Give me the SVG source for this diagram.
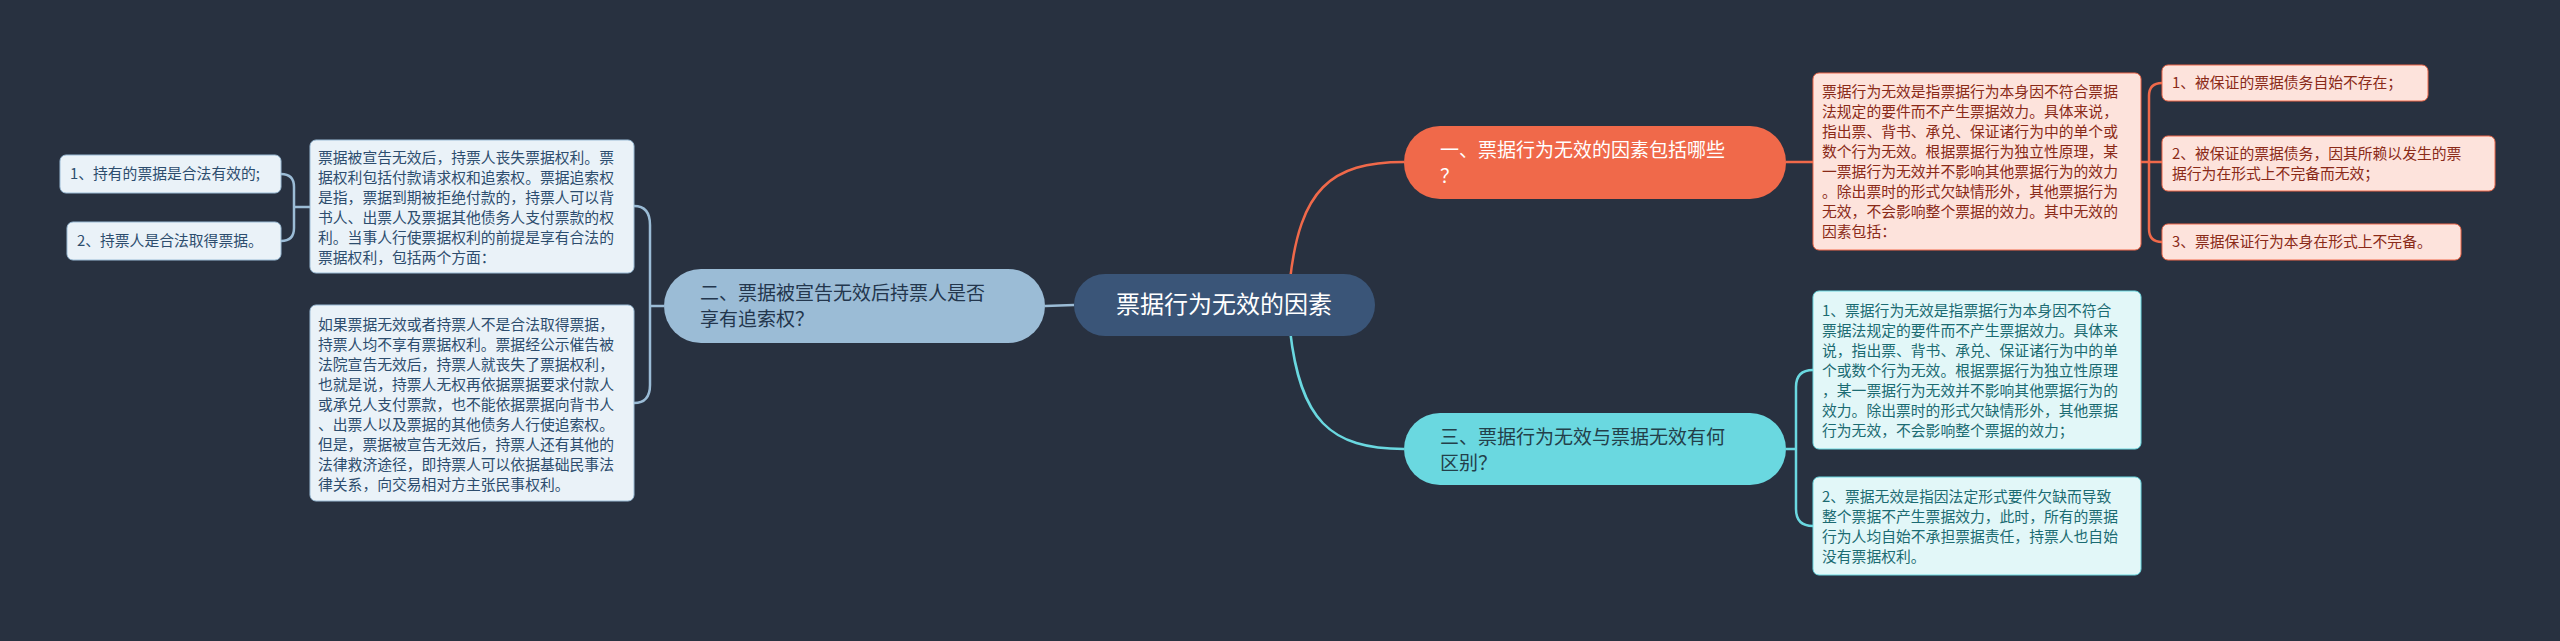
<svg xmlns="http://www.w3.org/2000/svg" width="2560" height="641" viewBox="0 0 2560 641">
<style>
text{font-family:"Noto Sans CJK SC","Liberation Sans",sans-serif}
.t{font-size:14.8px}
.lb rect{fill:#eaf2f8;stroke:#9bbcd6;stroke-width:1}
.lb text{fill:#2d4d6e}
.rt rect{fill:#fde3dc;stroke:#f0694a;stroke-width:1}
.rt text{fill:#8a2a18}
.rb rect{fill:#e2f7f8;stroke:#6ad8e0;stroke-width:1}
.rb text{fill:#1b6b72}
.main{font-size:19px}
</style>
<rect width="2560" height="641" fill="#283140"/>
<g id="connectors" fill="none" stroke-width="2.5">
<path d="M1290,280 C1300,190 1330,162 1404,162" stroke="#f0694a"/>
<path d="M1290,330 C1300,420 1330,449 1404,449" stroke="#6ad8e0"/>
<path d="M1074,305 L1045,306" stroke="#9bbcd6"/>
<path d="M1786,162 L1813,162" stroke="#f0694a"/>
<path d="M2141,162 L2149,162 M2162,83 Q2149,83 2149,96 L2149,229 Q2149,242 2162,242 M2149,162 L2162,162" stroke="#f0694a"/>
<path d="M1786,449 L1796,449 M1813,370 Q1796,370 1796,387 L1796,509 Q1796,526 1813,526" stroke="#6ad8e0"/>
<path d="M664,306 L650,306 M634,206 Q650,206 650,225 L650,385 Q650,403 634,403" stroke="#9bbcd6"/>
<path d="M310,207 L294,207 M281,174 Q294,174 294,187 L294,228 Q294,241 281,241" stroke="#9bbcd6"/>
</g>
<g id="center"><rect x="1074" y="274" width="301" height="62" rx="31" fill="#3a5578"/><text x="1224" y="313" text-anchor="middle" font-size="24" fill="#fff">票据行为无效的因素</text></g>
<g id="n1"><rect x="1404" y="126" width="382" height="73" rx="36" fill="#f0694a"/><text class="main" fill="#fff"><tspan x="1440" y="157">一、票据行为无效的因素包括哪些</tspan><tspan x="1440" y="183">？</tspan></text></g>
<g id="n3"><rect x="1404" y="413" width="382" height="72" rx="36" fill="#6ad8e0"/><text class="main" fill="#23404a"><tspan x="1440" y="444">三、票据行为无效与票据无效有何</tspan><tspan x="1440" y="470">区别？</tspan></text></g>
<g id="n2"><rect x="664" y="269" width="381" height="74" rx="37" fill="#9bbcd6"/><text class="main" fill="#23364d"><tspan x="700" y="300">二、票据被宣告无效后持票人是否</tspan><tspan x="700" y="326">享有追索权？</tspan></text></g>
<g id="rt-box" class="rt"><rect x="1813" y="73" width="328" height="177" rx="6"/><text class="t"><tspan x="1822" y="97">票据行为无效是指票据行为本身因不符合票据</tspan><tspan x="1822" y="117">法规定的要件而不产生票据效力。具体来说，</tspan><tspan x="1822" y="137">指出票、背书、承兑、保证诸行为中的单个或</tspan><tspan x="1822" y="157">数个行为无效。根据票据行为独立性原理，某</tspan><tspan x="1822" y="177">一票据行为无效并不影响其他票据行为的效力</tspan><tspan x="1822" y="197">。除出票时的形式欠缺情形外，其他票据行为</tspan><tspan x="1822" y="217">无效，不会影响整个票据的效力。其中无效的</tspan><tspan x="1822" y="237">因素包括：</tspan></text></g>
<g id="rt-l1" class="rt"><rect x="2162" y="65" width="266" height="36" rx="6"/><text class="t" x="2172" y="88">1、被保证的票据债务自始不存在；</text></g>
<g id="rt-l2" class="rt"><rect x="2162" y="136" width="333" height="55" rx="6"/><text class="t"><tspan x="2172" y="159">2、被保证的票据债务，因其所赖以发生的票</tspan><tspan x="2172" y="179">据行为在形式上不完备而无效；</tspan></text></g>
<g id="rt-l3" class="rt"><rect x="2162" y="224" width="299" height="36" rx="6"/><text class="t" x="2172" y="247">3、票据保证行为本身在形式上不完备。</text></g>
<g id="rb-1" class="rb"><rect x="1813" y="291" width="328" height="158" rx="6"/><text class="t"><tspan x="1822" y="316">1、票据行为无效是指票据行为本身因不符合</tspan><tspan x="1822" y="336">票据法规定的要件而不产生票据效力。具体来</tspan><tspan x="1822" y="356">说，指出票、背书、承兑、保证诸行为中的单</tspan><tspan x="1822" y="376">个或数个行为无效。根据票据行为独立性原理</tspan><tspan x="1822" y="396">，某一票据行为无效并不影响其他票据行为的</tspan><tspan x="1822" y="416">效力。除出票时的形式欠缺情形外，其他票据</tspan><tspan x="1822" y="436">行为无效，不会影响整个票据的效力；</tspan></text></g>
<g id="rb-2" class="rb"><rect x="1813" y="477" width="328" height="98" rx="6"/><text class="t"><tspan x="1822" y="502">2、票据无效是指因法定形式要件欠缺而导致</tspan><tspan x="1822" y="522">整个票据不产生票据效力，此时，所有的票据</tspan><tspan x="1822" y="542">行为人均自始不承担票据责任，持票人也自始</tspan><tspan x="1822" y="562">没有票据权利。</tspan></text></g>
<g id="lb-a" class="lb"><rect x="310" y="140" width="324" height="133" rx="6"/><text class="t"><tspan x="318" y="163">票据被宣告无效后，持票人丧失票据权利。票</tspan><tspan x="318" y="183">据权利包括付款请求权和追索权。票据追索权</tspan><tspan x="318" y="203">是指，票据到期被拒绝付款的，持票人可以背</tspan><tspan x="318" y="223">书人、出票人及票据其他债务人支付票款的权</tspan><tspan x="318" y="243">利。当事人行使票据权利的前提是享有合法的</tspan><tspan x="318" y="263">票据权利，包括两个方面：</tspan></text></g>
<g id="lb-b" class="lb"><rect x="310" y="305" width="324" height="196" rx="6"/><text class="t"><tspan x="318" y="330">如果票据无效或者持票人不是合法取得票据，</tspan><tspan x="318" y="350">持票人均不享有票据权利。票据经公示催告被</tspan><tspan x="318" y="370">法院宣告无效后，持票人就丧失了票据权利，</tspan><tspan x="318" y="390">也就是说，持票人无权再依据票据要求付款人</tspan><tspan x="318" y="410">或承兑人支付票款，也不能依据票据向背书人</tspan><tspan x="318" y="430">、出票人以及票据的其他债务人行使追索权。</tspan><tspan x="318" y="450">但是，票据被宣告无效后，持票人还有其他的</tspan><tspan x="318" y="470">法律救济途径，即持票人可以依据基础民事法</tspan><tspan x="318" y="490">律关系，向交易相对方主张民事权利。</tspan></text></g>
<g id="lb-l1" class="lb"><rect x="60" y="155" width="221" height="38" rx="6"/><text class="t" x="70" y="179">1、持有的票据是合法有效的;</text></g>
<g id="lb-l2" class="lb"><rect x="67" y="222" width="214" height="38" rx="6"/><text class="t" x="77" y="246">2、持票人是合法取得票据。</text></g>
</svg>
